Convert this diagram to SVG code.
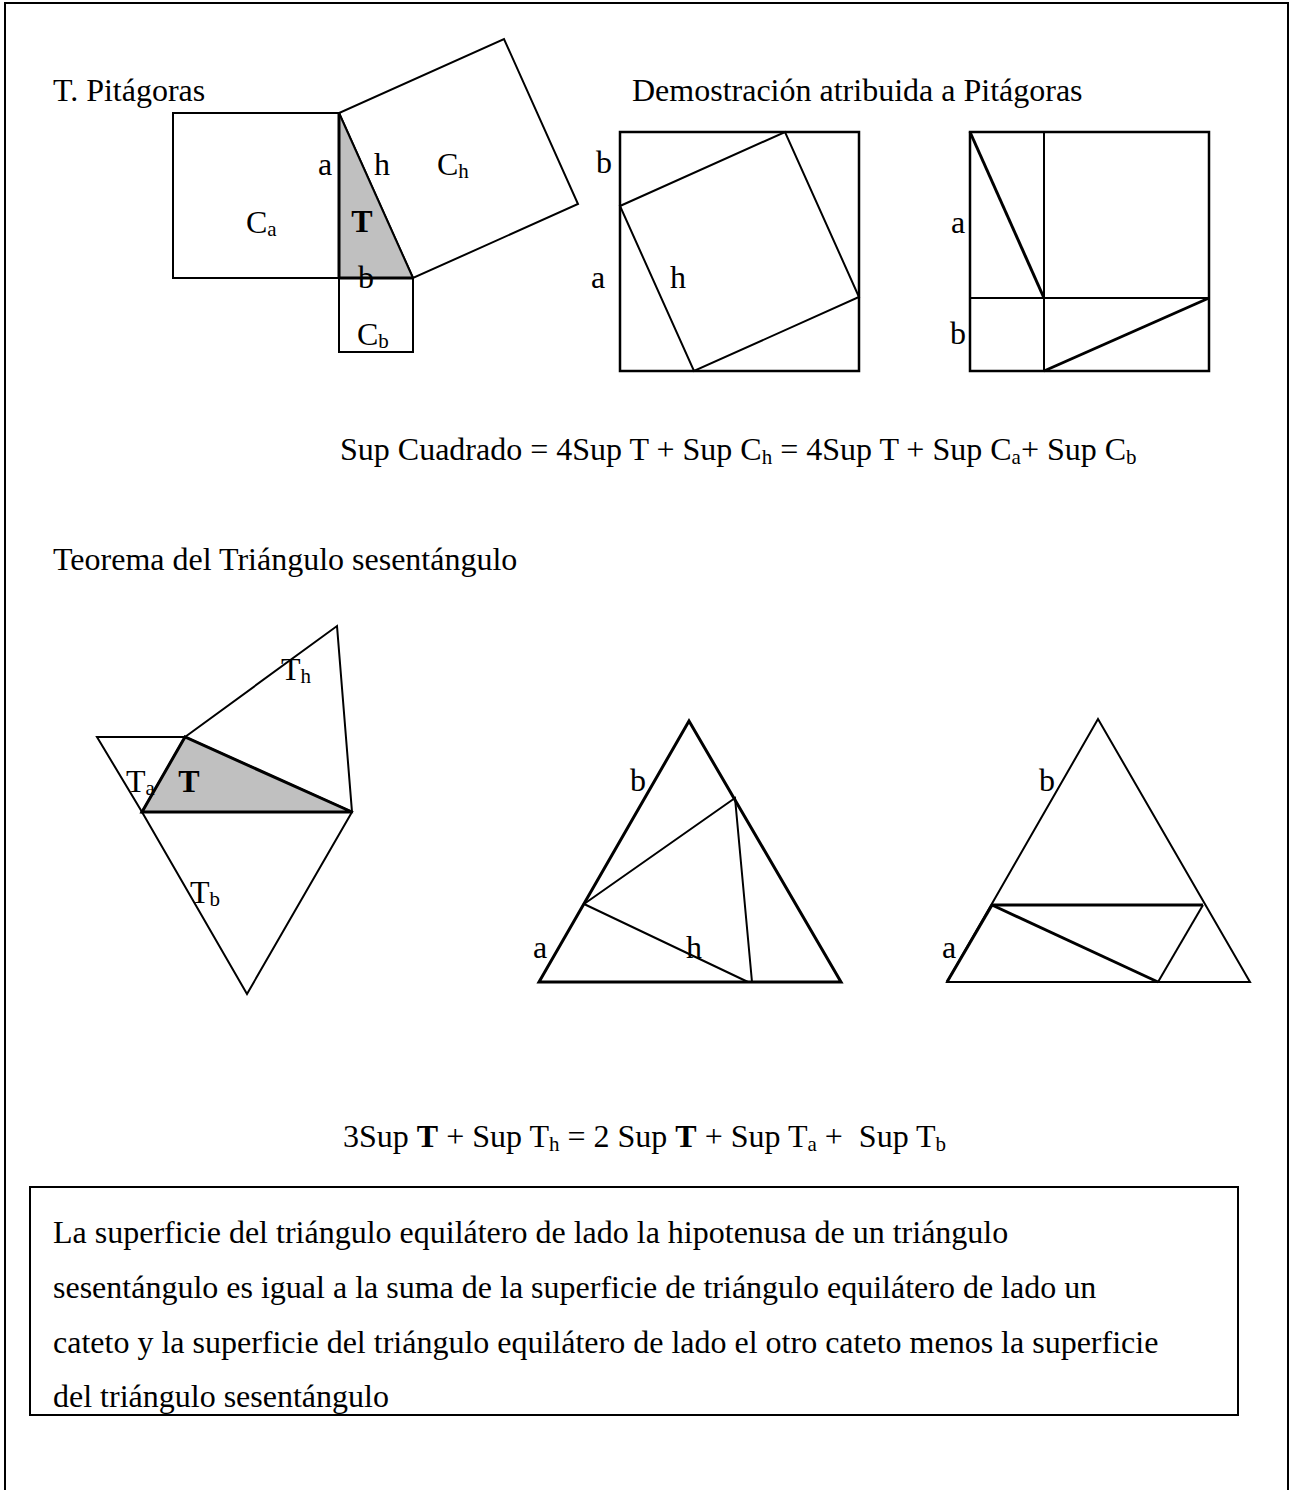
<svg xmlns="http://www.w3.org/2000/svg" width="1295" height="1490" viewBox="0 0 1295 1490">
<style>
text{font-family:"Liberation Serif","Times New Roman",serif;font-size:32px;fill:#000}
.sub{font-size:21px}
.b{font-weight:bold}
.ln{fill:none;stroke:#000;stroke-width:2;stroke-linejoin:miter}
.thk{fill:none;stroke:#000;stroke-width:3}
.shade{fill:#c0c0c0;stroke:none}
</style>
<rect x="5" y="3" width="1283" height="1500" fill="#fff" stroke="#000" stroke-width="2"/>

<g id="titles">
<text x="53" y="101">T. Pitágoras</text>
<text x="632" y="101">Demostración atribuida a Pitágoras</text>
<text x="53" y="570">Teorema del Triángulo sesentángulo</text>
</g>

<g id="pitagoras-figure">
<rect class="ln" x="173" y="113" width="166" height="165"/>
<rect class="ln" x="339" y="278" width="74" height="74"/>
<polygon class="ln" points="339,113 413,278 578,204 504,39"/>
<polygon class="shade" points="339,113 339,278 413,278"/>
<line class="thk" x1="339" y1="113" x2="339" y2="278"/>
<line class="thk" x1="339" y1="278" x2="413" y2="278"/>
<line class="ln" x1="339" y1="113" x2="413" y2="278"/>
<text x="325" y="175" text-anchor="middle">a</text>
<text x="382" y="175" text-anchor="middle">h</text>
<text x="437" y="175">C<tspan class="sub" dy="3">h</tspan></text>
<text x="246" y="233">C<tspan class="sub" dy="3">a</tspan></text>
<text class="b" x="362" y="232" text-anchor="middle">T</text>
<text x="366" y="288" text-anchor="middle">b</text>
<text x="357" y="345">C<tspan class="sub" dy="3">b</tspan></text>
</g>

<g id="demo-square-1">
<rect x="620" y="132" width="239" height="239" fill="none" stroke="#000" stroke-width="2.5"/>
<polygon class="ln" points="620,206 785,132 859,297 694,371"/>
<text x="604" y="173" text-anchor="middle">b</text>
<text x="598" y="288" text-anchor="middle">a</text>
<text x="678" y="288" text-anchor="middle">h</text>
</g>

<g id="demo-square-2">
<rect x="970" y="132" width="239" height="239" fill="none" stroke="#000" stroke-width="2.5"/>
<line class="ln" x1="1044" y1="132" x2="1044" y2="371"/>
<line class="ln" x1="970" y1="298" x2="1209" y2="298"/>
<line class="thk" x1="970" y1="132" x2="1044" y2="298" stroke-width="2.5"/>
<line class="thk" x1="1044" y1="371" x2="1209" y2="298" stroke-width="2.5"/>
<text x="958" y="233" text-anchor="middle">a</text>
<text x="958" y="344" text-anchor="middle">b</text>
</g>

<g id="formula-1">
<text x="340" y="460">Sup Cuadrado = 4Sup T + Sup C<tspan class="sub" dy="4">h</tspan><tspan dy="-4"> = 4Sup T + Sup C</tspan><tspan class="sub" dy="4">a</tspan><tspan dy="-4">+ Sup C</tspan><tspan class="sub" dy="4">b</tspan></text>
</g>

<g id="sesentangulo-figure">
<polygon class="ln" points="185,737 337,626 352,812"/>
<polygon class="ln" points="142,812 185,737 97,737"/>
<polygon class="ln" points="142,812 352,812 247,994"/>
<polygon class="shade" points="142,812 185,737 352,812"/>
<polygon class="thk" points="142,812 185,737 352,812"/>
<text x="281" y="680">T<tspan class="sub" dy="3">h</tspan></text>
<text x="126" y="792">T<tspan class="sub" dy="3">a</tspan></text>
<text class="b" x="189" y="792" text-anchor="middle">T</text>
<text x="190" y="903">T<tspan class="sub" dy="3">b</tspan></text>
</g>

<g id="triangle-demo-1">
<polygon class="thk" points="689,721 841,982 539,982"/>
<polyline class="ln" points="748,982 584,904 735,798 752,982"/>
<text x="638" y="791" text-anchor="middle">b</text>
<text x="540" y="958" text-anchor="middle">a</text>
<text x="694" y="958" text-anchor="middle">h</text>
</g>

<g id="triangle-demo-2">
<polygon class="ln" points="1098,719 1250,982 947,982"/>
<line class="thk" x1="947" y1="982" x2="992" y2="905"/>
<line class="thk" x1="992" y1="905" x2="1203" y2="905" stroke-width="2.5"/>
<line class="thk" x1="992" y1="905" x2="1158" y2="982"/>
<line class="ln" x1="1158" y1="982" x2="1203" y2="905"/>
<text x="1047" y="791" text-anchor="middle">b</text>
<text x="949" y="958" text-anchor="middle">a</text>
</g>

<g id="formula-2">
<text x="343" y="1147" xml:space="preserve">3Sup <tspan class="b">T</tspan> + Sup T<tspan class="sub" dy="4">h</tspan><tspan dy="-4"> = 2 Sup </tspan><tspan class="b">T</tspan> + Sup T<tspan class="sub" dy="4">a</tspan><tspan dy="-4"> +  Sup T</tspan><tspan class="sub" dy="4">b</tspan></text>
</g>

<g id="statement-box">
<rect x="30" y="1187" width="1208" height="228" fill="none" stroke="#000" stroke-width="2"/>
<text x="53" y="1243">La superficie del triángulo equilátero de lado la hipotenusa de un triángulo</text>
<text x="53" y="1298">sesentángulo es igual a la suma de la superficie de triángulo equilátero de lado un</text>
<text x="53" y="1353">cateto y la superficie del triángulo equilátero de lado el otro cateto menos la superficie</text>
<text x="53" y="1407">del triángulo sesentángulo</text>
</g>
</svg>
